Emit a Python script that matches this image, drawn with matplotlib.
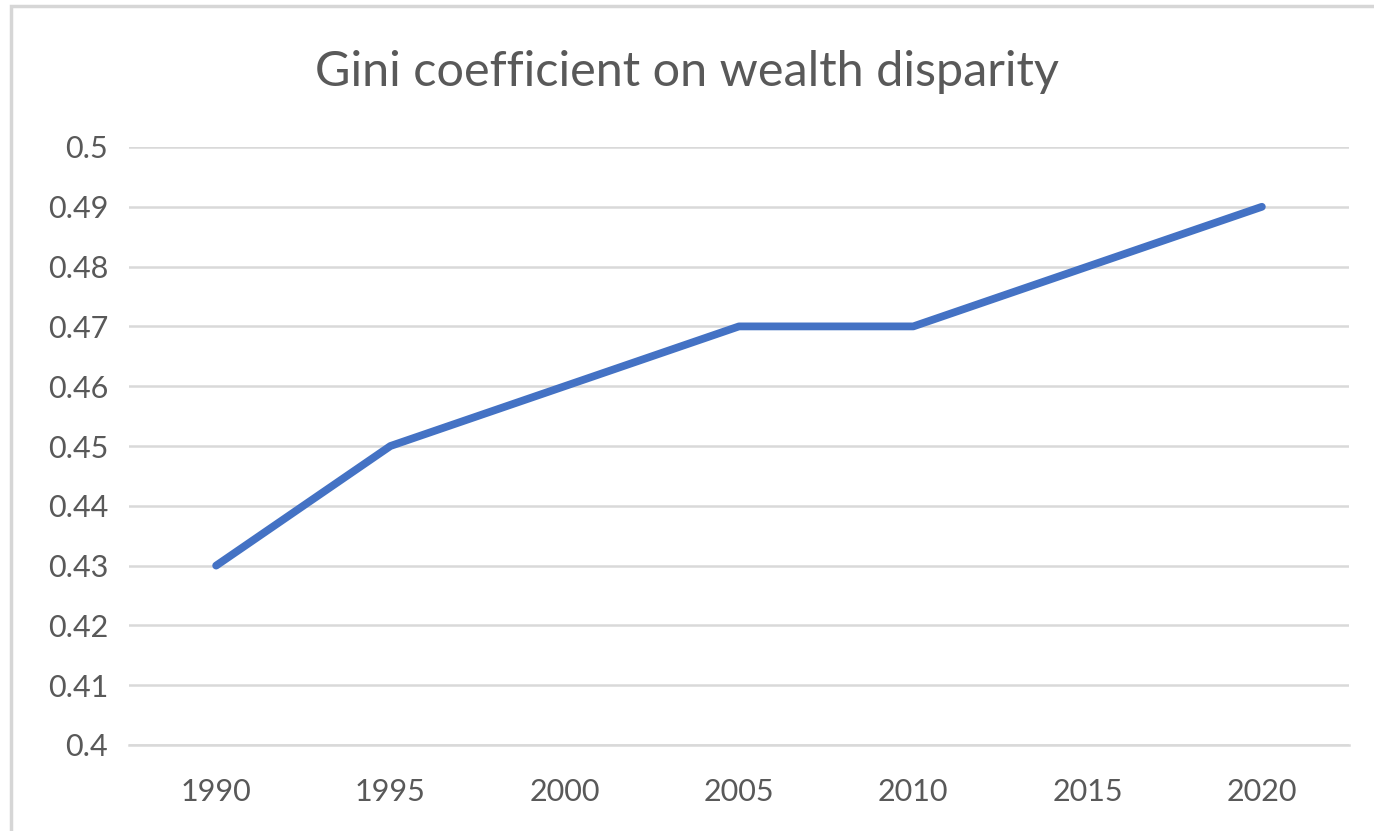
import matplotlib.pyplot as plt
from matplotlib.patches import Rectangle

years = ["1990", "1995", "2000", "2005", "2010", "2015", "2020"]
gini = [0.43, 0.45, 0.46, 0.47, 0.47, 0.48, 0.49]
y_ticks = [0.40, 0.41, 0.42, 0.43, 0.44, 0.45, 0.46, 0.47, 0.48, 0.49, 0.50]
y_tick_labels = ["0.4", "0.41", "0.42", "0.43", "0.44", "0.45", "0.46", "0.47", "0.48", "0.49", "0.5"]

plt.rcParams["font.family"] = ["Lato", "DejaVu Sans"]

TEXT = "#595959"
GRID = "#d9d9d9"
LINE = "#4472C4"

fig = plt.figure(figsize=(13.74, 8.31), dpi=100)
fig.patch.set_facecolor("white")

# chart-area frame (left/top edges visible)
fig.patches.append(
    Rectangle((11 / 1374, -0.05), 1.1, 1 - 6 / 831 + 0.05, transform=fig.transFigure,
              fill=False, edgecolor="#d6d6d6", lw=2.5, zorder=0)
)

ax = fig.add_axes([129 / 1374, 1 - 745 / 831, 1220 / 1374, 598 / 831])

x = list(range(len(years)))
ax.plot(x, gini, color=LINE, lw=5.6, solid_capstyle="round", solid_joinstyle="round", zorder=3)

ax.set_xlim(-0.5, len(years) - 0.5)
ax.set_ylim(0.40, 0.50)
ax.set_xticks(x)
ax.set_xticklabels(years)
ax.set_yticks(y_ticks)
ax.set_yticklabels(y_tick_labels)

ax.tick_params(axis="both", length=0, colors=TEXT, labelsize=22)
ax.tick_params(axis="y", pad=15)
ax.tick_params(axis="x", pad=24)

for s in ["top", "right", "left"]:
    ax.spines[s].set_visible(False)
ax.spines["bottom"].set_color(GRID)
ax.spines["bottom"].set_linewidth(1.8)
ax.spines["bottom"].set_zorder(1)

ax.yaxis.grid(True, color=GRID, lw=1.8)
ax.set_axisbelow(True)

fig.text(0.5, 1 - 72 / 831, "Gini coefficient on wealth disparity", ha="center", va="center",
         fontsize=35, color=TEXT)

fig.savefig("out.png", dpi=100)
